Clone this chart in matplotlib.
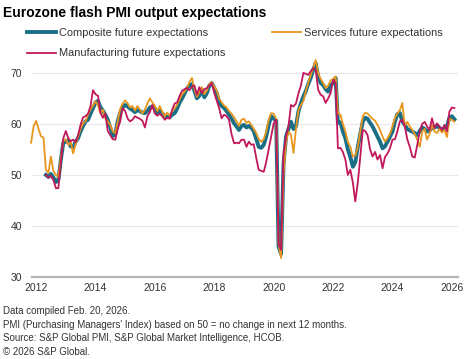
import datetime as dt
import matplotlib
matplotlib.use('Agg')
from matplotlib import pyplot as plt
import matplotlib.dates as mdates
import pandas as pd

plt.rcParams['font.family'] = ['Liberation Sans', 'DejaVu Sans']

# monthly index values
composite = [
    50.0, 49.6, 50.2, 49.5, 48.6, 49.0, 53.0, 56.3,                    # 2012 (May-Dec)
    56.5, 56.8, 55.6, 55.4, 56.5, 57.2, 58.5, 59.6, 60.5, 60.8, 62.0, 63.1,  # 2013
    64.2, 64.5, 63.3, 62.6, 61.8, 60.8, 59.3, 57.6, 58.0, 60.5, 62.2, 63.2,  # 2014
    63.7, 63.4, 63.0, 62.7, 62.3, 62.7, 62.5, 62.2, 62.1, 62.5, 63.2, 63.4,  # 2015
    63.0, 62.2, 62.6, 62.0, 61.6, 61.4, 61.3, 61.8, 62.1, 63.0, 64.2, 65.0,  # 2016
    66.0, 67.0, 67.5, 67.8, 66.5, 65.0, 65.5, 66.7, 65.2, 66.0, 67.5, 68.0,  # 2017
    67.0, 66.0, 64.2, 63.5, 63.1, 62.5, 61.8, 61.0, 60.1, 59.5, 58.8, 59.6,  # 2018
    59.8, 59.3, 59.6, 59.2, 58.6, 57.0, 55.5, 55.3, 55.9, 57.5, 59.8, 61.5,  # 2019
    61.0, 60.6, 36.0, 34.5, 52.0, 57.5, 59.0, 60.4, 59.0, 59.5, 62.5, 64.0,  # 2020
    65.4, 66.5, 67.8, 69.0, 70.6, 71.9, 69.3, 68.0, 67.6, 66.8, 66.3, 67.5,  # 2021
    68.0, 69.0, 60.2, 60.3, 58.5, 57.2, 55.0, 53.5, 51.6, 52.5, 55.5, 58.0,  # 2022
    60.5, 61.2, 61.0, 60.2, 59.5, 58.5, 57.5, 56.5, 55.2, 55.6, 56.5, 57.5,  # 2023
    58.5, 60.5, 61.9, 62.1, 60.5, 59.8, 59.0, 58.7, 58.5, 58.2, 57.8, 58.6,  # 2024
    59.3, 59.0, 58.5, 58.7, 59.2, 59.3, 59.6, 59.2, 58.8, 59.2, 59.5, 61.2,  # 2025
    61.5, 60.9,                                                        # 2026
]

services = [
    56.3, 59.5,                                                        # 2011 (Nov-Dec)
    60.6, 59.0, 57.6, 57.3, 51.0, 50.4, 53.6, 50.8, 50.0, 49.6, 53.5, 56.6,  # 2012
    57.0, 55.9, 56.5, 54.2, 56.0, 57.5, 59.0, 60.1, 60.5, 61.8, 62.8, 63.6,  # 2013
    64.4, 63.6, 62.1, 62.8, 61.1, 60.5, 59.8, 58.5, 58.2, 60.5, 63.0, 64.0,  # 2014
    64.6, 64.0, 63.2, 63.5, 62.6, 63.5, 62.8, 62.0, 62.8, 64.0, 65.0, 64.2,  # 2015
    63.5, 62.5, 63.5, 62.4, 61.5, 62.2, 61.6, 62.5, 63.0, 63.8, 64.8, 65.8,  # 2016
    66.3, 67.2, 68.2, 69.0, 66.8, 65.3, 66.2, 67.2, 65.8, 66.5, 67.8, 68.2,  # 2017
    67.3, 66.5, 65.0, 64.2, 63.6, 63.2, 62.5, 62.0, 61.3, 60.5, 59.6, 60.8,  # 2018
    61.0, 60.2, 60.5, 59.8, 59.0, 58.2, 57.0, 56.5, 57.0, 58.5, 60.8, 62.1,  # 2019
    62.0, 61.0, 36.5, 33.7, 50.0, 56.5, 58.5, 57.8, 54.3, 59.0, 62.7, 63.7,  # 2020
    64.5, 66.5, 68.0, 69.5, 71.0, 72.5, 70.0, 68.8, 68.0, 67.0, 67.5, 68.5,  # 2021
    68.8, 69.3, 62.1, 61.8, 60.0, 58.5, 56.5, 55.5, 53.6, 53.8, 55.5, 58.5,  # 2022
    61.5, 62.2, 62.0, 61.5, 61.0, 60.6, 59.8, 58.8, 57.5, 56.5, 57.2, 58.0,  # 2023
    59.5, 61.2, 62.0, 62.7, 64.1, 59.5, 60.4, 59.5, 58.8, 58.0, 56.9, 55.5,  # 2024
    58.5, 59.0, 56.9, 58.0, 59.8, 58.5, 58.2, 59.0, 58.3, 58.8, 57.4, 61.0,  # 2025
    60.8, 60.4,                                                        # 2026
]

manufacturing = [
    50.0, 49.5, 49.8, 49.0, 47.4, 47.4, 52.5, 57.2,                    # 2012 (May-Dec)
    58.6, 57.2, 56.6, 56.9, 56.4, 57.8, 59.8, 61.3, 61.5, 62.0, 63.5, 66.6,  # 2013
    65.8, 65.5, 62.2, 61.2, 62.0, 58.6, 57.8, 57.0, 56.9, 59.0, 60.5, 63.1,  # 2014
    62.5, 61.0, 60.5, 60.8, 61.5, 61.2, 61.0, 60.6, 59.3, 61.5, 62.3, 63.7,  # 2015
    62.0, 61.6, 62.0, 61.5, 60.8, 61.2, 61.0, 62.8, 64.0, 64.2, 65.5, 66.5,  # 2016
    66.8, 67.0, 66.6, 67.3, 67.5, 65.7, 67.2, 66.0, 66.8, 67.0, 67.5, 68.0,  # 2017
    66.0, 64.5, 63.1, 61.1, 61.8, 61.5, 60.8, 58.0, 56.2, 56.3, 56.2, 56.9,  # 2018
    56.9, 55.5, 56.5, 55.9, 56.0, 53.3, 51.0, 50.8, 50.6, 52.5, 55.0, 57.5,  # 2019
    60.1, 60.8, 36.5, 35.3, 54.0, 57.5, 59.5, 63.7, 63.4, 64.0, 66.0, 67.5,  # 2020
    70.0, 69.8, 69.6, 70.3, 70.9, 70.5, 66.7, 65.7, 65.4, 64.1, 65.0, 66.0,  # 2021
    68.6, 68.0, 55.2, 55.3, 54.5, 53.0, 50.0, 51.0, 48.5, 44.8, 48.5, 53.6,  # 2022
    58.8, 58.6, 57.8, 55.0, 53.6, 54.5, 53.0, 53.9, 51.3, 53.5, 54.2, 55.2,  # 2023
    56.9, 57.0, 58.5, 60.5, 60.8, 59.5, 57.0, 55.5, 53.6, 53.4, 55.9, 58.5,  # 2024
    60.0, 60.4, 59.5, 58.8, 61.1, 59.2, 60.1, 59.5, 58.8, 59.8, 58.5, 62.4,  # 2025
    63.2, 63.1,                                                        # 2026
]

labels = ['Composite future expectations', 'Services future expectations',
          'Manufacturing future expectations']
colors = ['#1a6f86', '#e8961e', '#c0185a']
widths = [2.8, 1.3, 1.3]
title = 'Eurozone flash PMI output expectations'
notes = ['Data compiled Feb. 20, 2026.',
         "PMI (Purchasing Managers' Index) based on 50 = no change in next 12 months.",
         'Source: S&P Global PMI, S&P Global Market Intelligence, HCOB.',
         '\u00a9 2026 S&P Global.']

comp_dates = pd.date_range('2012-05-01', periods=len(composite), freq='MS')
serv_dates = pd.date_range('2011-11-01', periods=len(services), freq='MS')
manu_dates = pd.date_range('2012-05-01', periods=len(manufacturing), freq='MS')

fig = plt.figure(figsize=(4.72, 3.59), dpi=100)
ax = fig.add_axes([32 / 472, 82 / 359, 426 / 472, 220 / 359])

lines = []
for d, v, lab, c, w in zip([comp_dates, serv_dates, manu_dates],
                           [composite, services, manufacturing],
                           labels, colors, widths):
    ln, = ax.plot(d, v, color=c, lw=w, label=lab, solid_joinstyle='round', clip_on=False)
    lines.append(ln)

ax.set_ylim(30, 73.1)
ax.set_xlim(dt.datetime(2011, 11, 12), dt.datetime(2026, 3, 17))
ax.set_yticks([30, 40, 50, 60, 70])
ax.xaxis.set_major_locator(mdates.YearLocator(2))
ax.xaxis.set_major_formatter(mdates.DateFormatter('%Y'))
ax.grid(axis='y', color='#e8e8e8', lw=0.8)
ax.set_axisbelow(True)
for s in ['top', 'right', 'left']:
    ax.spines[s].set_visible(False)
ax.spines['bottom'].set_color('#b5b5b5')
ax.spines['bottom'].set_linewidth(1.6)
ax.tick_params(length=0, labelsize=7.5, colors='#333333')
ax.tick_params(axis='y', pad=7)
ax.tick_params(axis='x', pad=4)

fig.text(3 / 472, 1 - 12.5 / 359, title, fontsize=10, fontweight='bold', va='center', ha='left')

leg = fig.legend([lines[0], lines[2], lines[1]], [labels[0], labels[2], labels[1]],
                 ncol=2, loc='upper left', bbox_to_anchor=(27 / 472, 1 - 28 / 359),
                 frameon=False, fontsize=7.9, handlelength=2.6, handletextpad=0.3,
                 columnspacing=4.3, labelspacing=0.95, borderpad=0, borderaxespad=0)
for t in leg.get_texts():
    t.set_color('#333333')

for i, s in enumerate(notes):
    fig.text(3 / 472, 1 - (311 + i * 13.7) / 359, s, fontsize=7, color='#333333',
             va='center', ha='left')

fig.savefig('out.png', dpi=100)
